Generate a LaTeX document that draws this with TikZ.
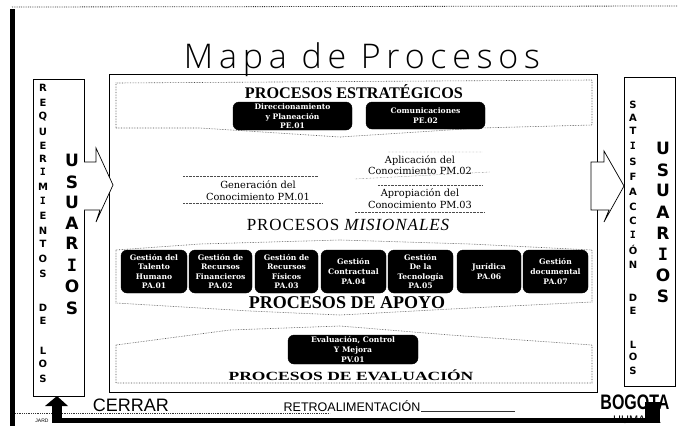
\documentclass[tikz,border=0pt]{standalone}
\usepackage{fontspec}
\setmainfont{Liberation Serif}
\setsansfont{Liberation Sans}
\setmonofont{DejaVu Sans Mono}
\newfontfamily\titlefont[LetterSpace=17]{Open Sans Light}
\newfontfamily\dvs{DejaVu Sans}
\newfontfamily\dvserif{DejaVu Serif}
\newfontfamily\wideserif[LetterSpace=5.5]{Liberation Serif}
\usetikzlibrary{calc}
\tikzset{
 frame/.style={draw=black,line width=1pt,inner sep=0,outer sep=0},
 zone/.style={draw=black!70,densely dotted,line width=.6pt},
 proc/.style={fill=black,rounded corners=6pt,draw=black},
 proclabel/.style={text=white,font=\dvserif\bfseries\fontsize{7.6}{9.6}\selectfont,align=center,inner sep=0},
 stack/.style={inner sep=0,font=\dvs\bfseries\fontsize{10}{10}\selectfont},
 bigstack/.style={inner sep=0,font=\dvs\bfseries\fontsize{17}{17}\selectfont},
 head/.style={inner sep=0,font=\bfseries\fontsize{16.2}{16}\selectfont},
 subproc/.style={inner sep=0,align=center,font=\dvserif\fontsize{9.8}{11.5}\selectfont},
 blockarrow/.style={draw=black,fill=white,line width=.7pt,line join=miter},
 feedback/.style={line width=5pt,draw=black},
}
\begin{document}
\begin{tikzpicture}[x=1pt,y=-1pt]
\useasboundingbox (0,0) rectangle (678,426);
\fill[white] (0,0) rectangle (678,426);
% scan edges
\fill[black] (10,9) rectangle (15,426);
\draw[black!80,densely dotted,line width=.8pt] (12,7) -- (678,6);
\draw[black!80,densely dotted,line width=.8pt] (15,413) -- (330,413);
% title
\node[inner sep=0] (title) at (362,60) {\titlefont\fontsize{34}{34}\selectfont Mapa de Procesos};
% main frames
\coordinate (mainNW) at (109,74);
\coordinate (mainSE) at (597,392);
\draw[frame] (mainNW) rectangle (mainSE);
\draw[frame] (33,79) rectangle (84,396);
\draw[frame] (624,77) rectangle (675,386);
% block arrows
\draw[blockarrow] (84,162) -- (96,162) -- (96,148) -- (113,185) -- (96,222) -- (100,210) -- (84,210);
\draw[blockarrow] (591,162) -- (604,162) -- (604,151) -- (624,186) -- (604,222) -- (609,210) -- (591,210) -- cycle;
% stacked letters
\foreach \l/\y in {R/88,E/103,Q/117,U/132,E/146,R/159,\texttt{I}/172,M/187,\texttt{I}/201,E/216,N/231,T/244,O/259,S/274,D/308,E/321,L/351,O/364,S/379}
  \node[stack] at (43,\y) {\l};
\foreach \l/\y in {U/160,S/182,U/202,A/223,R/243,\texttt{I}/265,O/286,S/308}
  \node[bigstack] at (72,\y) {\l};
\foreach \l/\y in {S/105,A/118,T/131,\texttt{I}/146,S/162,F/177,A/192,C/207,C/221,\texttt{I}/235,Ó/250,N/265,D/298,E/311,L/345,O/357,S/371}
  \node[stack] at (633,\y) {\l};
\foreach \l/\y in {U/148,S/170,U/190,A/212,R/233,\texttt{I}/254,O/275,S/296}
  \node[bigstack] at (663,\y) {\l};
% zones
\draw[zone] (116,128) -- (116,83) -- (592,80) -- (592,125) -- (480,128) -- (340,137) -- (200,128) -- cycle;
\draw[zone] (116,250) -- (200,244) -- (340,240) -- (470,244) -- (592,250) -- (592,302) -- (470,308) -- (340,315) -- (250,311) -- (116,303) -- cycle;
\draw[zone] (116,345) -- (230,330) -- (340,326) -- (450,335) -- (592,345) -- (592,383) -- (116,383) -- cycle;
% strategic
\node[head] (pe) at (354,92) {PROCESOS ESTRATÉGICOS};
\draw[proc] (233,102) rectangle (352,130);
\node[proclabel] (pe01) at (292.5,116.5) {Direccionamiento\\y Planeación\\PE.01};
\draw[proc] (366,102) rectangle (485,129);
\node[proclabel] (pe02) at (425.5,115.5) {Comunicaciones\\PE.02};
% misional
\draw[densely dotted,black!70] (183,176) -- (318,176) (183,203) -- (322,203);
\node[subproc] (pm01) at (258,190.5) {Generación del\\Conocimiento PM.01};
\draw[densely dotted,black!70] (388,152) -- (482,152) (355,179) -- (490,172);
\node[subproc] (pm02) at (420,165) {Aplicación del\\Conocimiento PM.02};
\draw[densely dotted,black!70] (378,185) -- (482,185) (355,212) -- (485,212);
\node[subproc] (pm03) at (420,198.5) {Apropiación del\\Conocimiento PM.03};
\node[inner sep=0] (pmt) at (348,225) {\wideserif\fontsize{17}{17}\selectfont PROCESOS \itshape MISIONALES};
% apoyo
\foreach \a/\b/\n/\t in {
 121/187/pa1/{Gestión del\\Talento\\Humano\\PA.01},
 189/252/pa2/{Gestión de\\Recursos\\Financieros\\PA.02},
 255/318/pa3/{Gestión de\\Recursos\\Físicos\\PA.03},
 321/386/pa4/{Gestión\\Contractual\\PA.04},
 388/453/pa5/{Gestión\\De la\\Tecnología\\PA.05},
 457/521/pa6/{Jurídica\\PA.06},
 523/588/pa7/{Gestión\\documental\\PA.07}}{
  \draw[proc] (\a,250) rectangle (\b,293);
  \node[proclabel] (\n) at ({(\a+\b)/2},271.5) {\t};
}
\node[head,font=\bfseries\fontsize{18}{18}\selectfont] (pat) at (347,303) {PROCESOS DE APOYO};
% evaluacion
\draw[proc] (288,335) rectangle (418,364);
\node[proclabel] (pv) at (353,349.5) {Evaluación, Control\\Y Mejora\\PV.01};
\node[inner sep=0,font=\bfseries\fontsize{12.5}{13}\selectfont] (pvt) at (351,375) {\scalebox{1.4}[1]{PROCESOS DE EVALUACIÓN}};
% bottom
\node[inner sep=0,font=\sffamily\fontsize{18}{18}\selectfont] (cerrar) at (131,405) {CERRAR};
\node[inner sep=0,font=\sffamily\fontsize{12.5}{13}\selectfont] (retro) at (352,406) {RETROALIMENTACIÓN};
\draw[black!80,line width=.7pt] (421,411) -- (515,411);
\node[inner sep=0,font=\sffamily\fontsize{5}{5}\selectfont] (jard) at (42,421) {JARD};
\node[inner sep=0,font=\sffamily\bfseries\fontsize{20}{20}\selectfont] (bog) at (635,402) {\scalebox{.8}[1.05]{BOGOTA}};
\node[inner sep=0,font=\sffamily\fontsize{11}{11}\selectfont] (hum) at (637,420) {HUMANA};
\coordinate (up) at (57,396);
\coordinate (corner) at (57,420);
\coordinate (rightend) at (650,420);
\draw[feedback] (corner) -- (rightend);
\fill[black] (52,405) rectangle (62,422.5);
\fill[black] (up) -- (68,406) -- (45,406) -- cycle;
\fill[black] (645,402) rectangle (660,422.5);
\end{tikzpicture}
\end{document}
